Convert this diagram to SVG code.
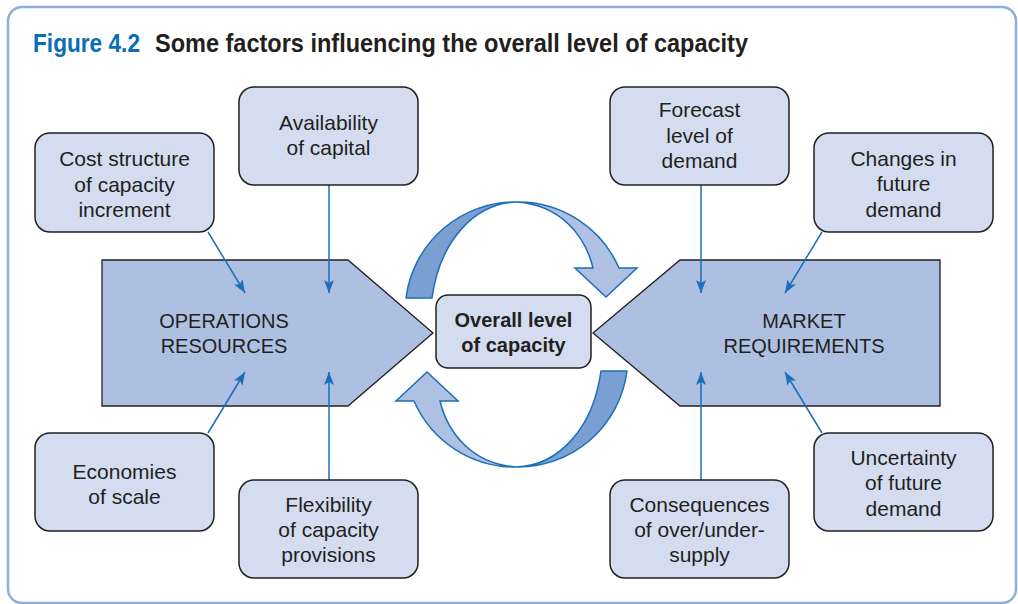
<svg xmlns="http://www.w3.org/2000/svg" width="1018" height="604" viewBox="0 0 1018 604">
<style>
.box{fill:#d4ddf0;stroke:#231f20;stroke-width:1.5}
.big{fill:#adc0e1;stroke:#231f20;stroke-width:1.3}
.t{font-family:"Liberation Sans",Arial,sans-serif;font-size:21px;fill:#231f20;text-anchor:middle}
.tb{font-family:"Liberation Sans",Arial,sans-serif;font-size:20px;fill:#231f20;text-anchor:middle}
.con{stroke:#1a6fb8;stroke-width:1.5;fill:none;marker-end:url(#ah)}
.dark{fill:#7a9fd3;stroke:#1a6fb8;stroke-width:1.5;stroke-linejoin:round}
.light{fill:#aec1e2;stroke:#1a6fb8;stroke-width:1.5;stroke-linejoin:miter}
</style>
<defs>
<marker id="ah" markerUnits="userSpaceOnUse" markerWidth="14" markerHeight="10" refX="13" refY="5" orient="auto">
<path d="M0,0 L13,5 L0,10 L3,5 z" fill="#1a6fb8"/>
</marker>
<g id="loopArrow">
<path class="light" d="M517,202 A110,110 0 0 1 619,268 L637,268 L606,297 L575,268 L593,268 C585,235 560,205 517,202 z"/>
<path class="dark" d="M406,298 A110,110 0 0 1 517,202 C475,203 440,240 432,298 z"/>
</g>
</defs>
<rect x="8" y="7" width="1008" height="596" rx="14" fill="#ffffff" stroke="#8eaddd" stroke-width="2.5"/>
<g id="title">
<text x="33" y="52" font-family="'Liberation Sans',Arial,sans-serif" font-weight="bold" font-size="26" fill="#0b6db7" textLength="107" lengthAdjust="spacingAndGlyphs">Figure 4.2</text>
<text x="155" y="52" font-family="'Liberation Sans',Arial,sans-serif" font-weight="bold" font-size="26" fill="#231f20" textLength="593" lengthAdjust="spacingAndGlyphs">Some factors influencing the overall level of capacity</text>
</g>
<g id="ops">
<polygon class="big" points="102,260 348,260 433,333 348,406 102,406"/>
<text class="tb" x="224" y="328">OPERATIONS</text>
<text class="tb" x="224" y="353">RESOURCES</text>
</g>
<g id="market">
<polygon class="big" points="593,333 680,260 940,260 940,406 680,406"/>
<text class="tb" x="804" y="328">MARKET</text>
<text class="tb" x="804" y="353">REQUIREMENTS</text>
</g>
<g id="loops">
<use href="#loopArrow"/>
<use href="#loopArrow" transform="rotate(180 516.5 334.5)"/>
</g>
<g id="center">
<rect class="box" x="436" y="295" width="155" height="73" rx="12"/>
<text class="tb" x="513.5" y="327" font-weight="bold">Overall level</text>
<text class="tb" x="513.5" y="352" font-weight="bold">of capacity</text>
</g>
<g id="connectors">
<line class="con" x1="208" y1="232" x2="245" y2="293"/>
<line class="con" x1="329" y1="185" x2="329" y2="293"/>
<line class="con" x1="208" y1="433" x2="245" y2="372"/>
<line class="con" x1="329" y1="480" x2="329" y2="372"/>
<line class="con" x1="701" y1="185" x2="701" y2="293"/>
<line class="con" x1="822" y1="232" x2="785" y2="293"/>
<line class="con" x1="701" y1="480" x2="701" y2="372"/>
<line class="con" x1="822" y1="433" x2="785" y2="372"/>
</g>
<g id="cost">
<rect class="box" x="35" y="133" width="179" height="99" rx="15"/>
<text class="t" x="124.5" y="166">Cost structure</text>
<text class="t" x="124.5" y="192">of capacity</text>
<text class="t" x="124.5" y="217">increment</text>
</g>
<g id="capital">
<rect class="box" x="239" y="87" width="179" height="98" rx="15"/>
<text class="t" x="328.5" y="130">Availability</text>
<text class="t" x="328.5" y="155">of capital</text>
</g>
<g id="forecast">
<rect class="box" x="610" y="87" width="179" height="98" rx="15"/>
<text class="t" x="699.5" y="117">Forecast</text>
<text class="t" x="699.5" y="143">level of</text>
<text class="t" x="699.5" y="168">demand</text>
</g>
<g id="changes">
<rect class="box" x="814" y="133" width="179" height="99" rx="15"/>
<text class="t" x="903.5" y="166">Changes in</text>
<text class="t" x="903.5" y="191">future</text>
<text class="t" x="903.5" y="217">demand</text>
</g>
<g id="economies">
<rect class="box" x="35" y="433" width="179" height="98" rx="15"/>
<text class="t" x="124.5" y="479">Economies</text>
<text class="t" x="124.5" y="504">of scale</text>
</g>
<g id="flexibility">
<rect class="box" x="239" y="480" width="179" height="98" rx="15"/>
<text class="t" x="328.5" y="512">Flexibility</text>
<text class="t" x="328.5" y="537">of capacity</text>
<text class="t" x="328.5" y="562">provisions</text>
</g>
<g id="consequences">
<rect class="box" x="610" y="480" width="179" height="98" rx="15"/>
<text class="t" x="699.5" y="512">Consequences</text>
<text class="t" x="699.5" y="537">of over/under-</text>
<text class="t" x="699.5" y="562">supply</text>
</g>
<g id="uncertainty">
<rect class="box" x="814" y="433" width="179" height="98" rx="15"/>
<text class="t" x="903.5" y="465">Uncertainty</text>
<text class="t" x="903.5" y="490">of future</text>
<text class="t" x="903.5" y="516">demand</text>
</g>
</svg>
